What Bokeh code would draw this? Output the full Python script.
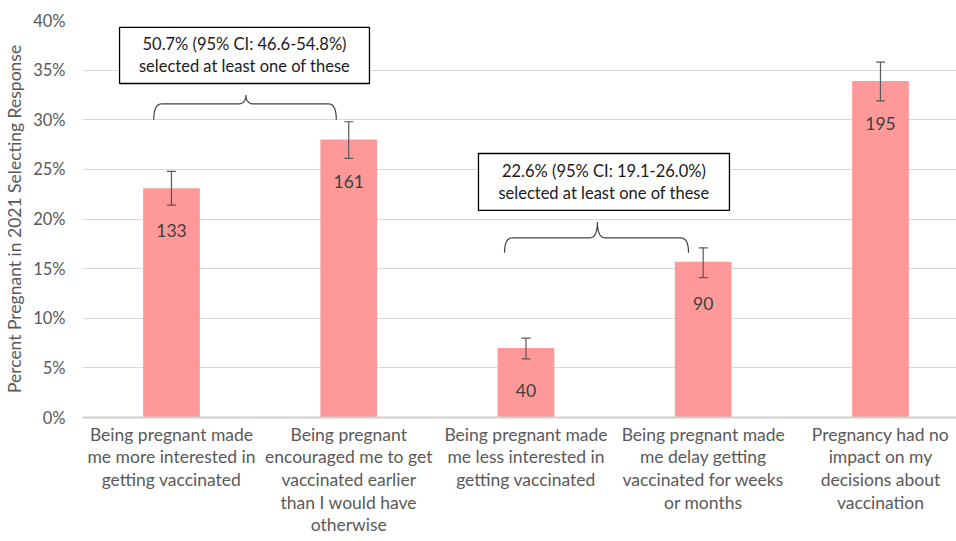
import numpy as np
from bokeh.plotting import figure
from bokeh.models import (ColumnDataSource, Whisker, TeeHead, BoxAnnotation, Label,
                          FixedTicker, PrintfTickFormatter, Range1d)
from bokeh.embed import file_html
from bokeh.resources import INLINE

categories = [
    "Being pregnant made\nme more interested in\ngetting vaccinated",
    "Being pregnant\nencouraged me to get\nvaccinated earlier\nthan I would have\notherwise",
    "Being pregnant made\nme less interested in\ngetting vaccinated",
    "Being pregnant made\nme delay getting\nvaccinated for weeks\nor months",
    "Pregnancy had no\nimpact on my\ndecisions about\nvaccination",
]
percent = [23.1, 28.0, 7.0, 15.7, 33.9]
ci_low = [21.4, 26.1, 5.9, 14.1, 31.9]
ci_high = [24.8, 29.8, 8.0, 17.1, 35.8]
counts = [133, 161, 40, 90, 195]
y_ticks = [0, 5, 10, 15, 20, 25, 30, 35, 40]

group_notes = [
    ("50.7% (95% CI: 46.6-54.8%)", "selected at least one of these"),
    ("22.6% (95% CI: 19.1-26.0%)", "selected at least one of these"),
]

FONT = "Lato"
GREY = "#595959"

x = list(range(len(categories)))
src = ColumnDataSource(dict(x=x, top=percent, lo=ci_low, hi=ci_high,
                            lab=[str(c) for c in counts]))

p = figure(width=956, height=541, output_backend="svg", toolbar_location=None,
           x_range=Range1d(-0.502, 4.429), y_range=Range1d(0, 40),
           min_border_left=82, min_border_right=0, min_border_top=20,
           min_border_bottom=124)
p.outline_line_color = None
p.background_fill_color = "white"

p.vbar(x="x", top="top", width=0.32, source=src, fill_color="#FF9999",
       line_color=None)

w = Whisker(base="x", lower="lo", upper="hi", source=src, line_color=GREY,
            line_width=1.2, level="overlay",
            upper_head=TeeHead(size=9, line_color=GREY, line_width=1.2),
            lower_head=TeeHead(size=9, line_color=GREY, line_width=1.2))
p.add_layout(w)

p.text(x="x", y="top", text="lab", source=src, text_align="center",
       text_baseline="middle", y_offset=42, text_font_size="17.5px",
       text_color="#404040", text_font={"value": FONT})

# y axis
p.yaxis.ticker = FixedTicker(ticks=y_ticks)
p.yaxis.formatter = PrintfTickFormatter(format="%d%%")
p.yaxis.axis_line_color = None
p.yaxis.major_tick_line_color = None
p.yaxis.minor_tick_line_color = None
p.yaxis.major_tick_out = 0
p.yaxis.major_tick_in = 0
p.yaxis.major_label_text_font_size = "16.5px"
p.yaxis.major_label_text_color = GREY
p.yaxis.major_label_text_font = FONT
p.yaxis.axis_label = "Percent Pregnant in 2021 Selecting Response"
p.yaxis.axis_label_text_font_size = "17.5px"
p.yaxis.axis_label_text_font_style = "normal"
p.yaxis.axis_label_text_color = GREY
p.yaxis.axis_label_text_font = FONT
p.yaxis.axis_label_standoff = 5
p.yaxis.major_label_standoff = 17

# x axis with multi-line category labels
p.xaxis.ticker = FixedTicker(ticks=x)
p.xaxis.major_label_overrides = {i: c for i, c in enumerate(categories)}
p.xaxis.axis_line_color = "#d0d0d0"
p.xaxis.axis_line_width = 2
p.xaxis.major_tick_line_color = None
p.xaxis.minor_tick_line_color = None
p.xaxis.major_tick_out = 0
p.xaxis.major_tick_in = 0
p.xaxis.major_label_text_font_size = "17.5px"
p.xaxis.major_label_text_color = GREY
p.xaxis.major_label_text_font = FONT
p.xaxis.major_label_text_line_height = 1.08
p.xaxis.major_label_standoff = 6

p.xgrid.grid_line_color = None
p.ygrid.grid_line_color = "#d9d9d9"
p.ygrid.grid_line_width = 1


def brace(x0, x1, xm, yb, ym, yt, rx=0.045):
    t = np.linspace(0, 1, 12)

    def quad(a, b, c):
        a, b, c = map(np.array, (a, b, c))
        return ((1 - t)[:, None] ** 2 * a + 2 * ((1 - t) * t)[:, None] * b
                + (t ** 2)[:, None] * c)

    pts = np.vstack([
        quad((x0, yb), (x0, ym), (x0 + rx, ym)),
        quad((xm - rx, ym), (xm, ym), (xm, yt)),
        quad((xm, yt), (xm, ym), (xm + rx, ym)),
        quad((x1 - rx, ym), (x1, ym), (x1, yb)),
    ])
    p.line(pts[:, 0], pts[:, 1], line_color="#404040", line_width=1.2)


brace(-0.10, 0.93, 0.42, 30.0, 31.6, 32.5)
brace(1.879, 2.917, 2.403, 16.6, 18.1, 19.7)

boxes = [(-0.293, 1.117, 33.65, 39.3), (1.732, 3.148, 20.86, 26.6)]
for (l, r, b, tp), (line1, line2) in zip(boxes, group_notes):
    p.add_layout(BoxAnnotation(left=l, right=r, bottom=b, top=tp,
                               fill_color="white", fill_alpha=1.0,
                               line_color="black", line_width=1.3,
                               line_alpha=1.0))
    xc = (l + r) / 2
    yc = (b + tp) / 2
    p.add_layout(Label(x=xc, y=yc, text=line1, text_align="center",
                       text_baseline="middle", y_offset=11,
                       text_font_size="16.5px", text_color="#1a1a1a",
                       text_font=FONT))
    p.add_layout(Label(x=xc, y=yc, text=line2, text_align="center",
                       text_baseline="middle", y_offset=-11,
                       text_font_size="16.5px", text_color="#1a1a1a",
                       text_font=FONT))

open("out.html", "w").write(file_html(p, INLINE))
